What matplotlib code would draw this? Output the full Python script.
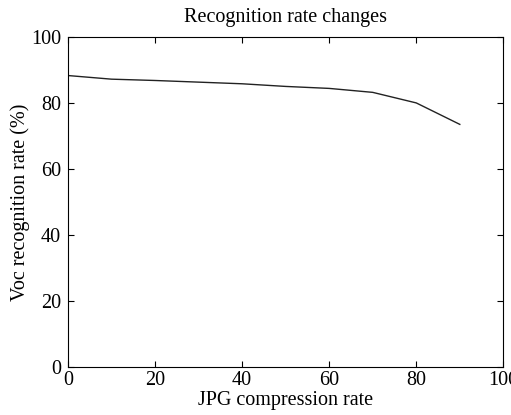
import matplotlib
matplotlib.use('Agg')
import matplotlib.pyplot as plt

compression = [0, 10, 20, 30, 40, 50, 60, 70, 80, 90]
recognition = [88.3, 87.2, 86.8, 86.3, 85.8, 85.0, 84.4, 83.2, 80.0, 73.5]

plt.rcParams['font.family'] = ['Liberation Serif', 'DejaVu Serif']

fig = plt.figure(figsize=(5.11, 4.15), dpi=100)
ax = fig.add_axes([0.133, 0.116, 0.852, 0.795])

ax.plot(compression, recognition, color='#222222', linewidth=1.0)
ax.set_xlim(0, 100)
ax.set_ylim(0, 100)
ax.set_xticks([0, 20, 40, 60, 80, 100])
ax.set_yticks([0, 20, 40, 60, 80, 100])
ax.tick_params(direction='in', top=True, right=True, labelsize=14.5, length=4)
ax.tick_params(axis='x', pad=3)
ax.tick_params(axis='y', pad=5)
for s in ax.spines.values():
    s.set_linewidth(0.8)

ax.set_title('Recognition rate changes', fontsize=14.5, pad=11)
ax.set_xlabel('JPG compression rate', fontsize=14.5, labelpad=1)
ax.set_ylabel('Voc recognition rate (%)', fontsize=14.5, labelpad=1)

fig.savefig('out.png', dpi=100)
